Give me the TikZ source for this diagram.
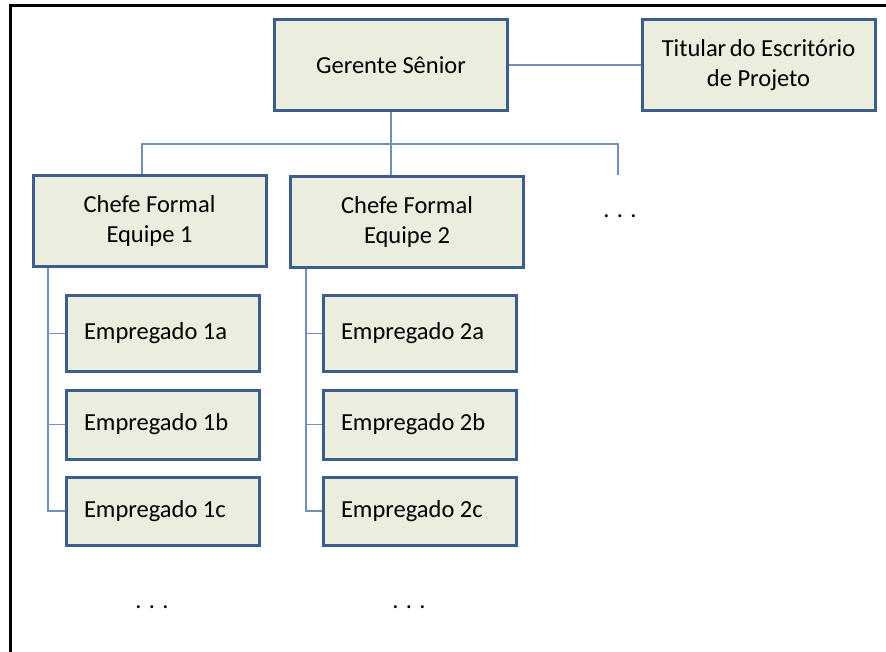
\documentclass[tikz,border=0pt]{standalone}
\usepackage{fontspec}
\setmainfont{Carlito}
\definecolor{boxfill}{HTML}{EBEDDF}
\definecolor{boxedge}{HTML}{3D5E8A}
\definecolor{wire}{HTML}{7391B6}
\newcommand{\emptext}[1]{\makebox[193pt][l]{\hspace*{18pt}#1}}
\begin{document}
\begin{tikzpicture}[x=1pt,y=-1pt,
  orgbox/.style={draw=boxedge,fill=boxfill,line width=3pt,rectangle,
    align=center,font=\fontsize{24.5}{30}\selectfont,inner sep=0pt},
  headbox/.style={orgbox,minimum width=233pt,minimum height=91pt},
  empbox/.style={orgbox,minimum width=193pt,anchor=north west},
  wireline/.style={draw=wire,line width=1.3pt},
  dotsnode/.style={font=\fontsize{24.5}{30}\selectfont,inner sep=0pt}]
\useasboundingbox (0,0) rectangle (886,652);
\fill[white] (0,0) rectangle (886,652);
% frame (top and left edges)
\draw[line width=3pt,black] (886,6) -- (10,6) -- (10,652);

% top level
\node[headbox] (ger) at (391,65) {Gerente Sênior};
\node[headbox] (tit) at (758.5,65.5) {Titular\hspace{-2pt} do Escritório\\de Projeto};

% team heads
\node[headbox] (ch1) at (149.5,221) {Chefe Formal\\Equipe 1};
\node[headbox] (ch2) at (407,222) {Chefe Formal\\Equipe 2};
\node[dotsnode] (more) at (620,216) {. . .};

% employees, team 1
\node[empbox,minimum height=75pt] (e1a) at (64.5,294.5) {\emptext{Empregado 1a}};
\node[empbox,minimum height=69pt] (e1b) at (64.5,388.5) {\emptext{Empregado 1b}};
\node[empbox,minimum height=68pt] (e1c) at (64.5,475.5) {\emptext{Empregado 1c}};
% employees, team 2
\node[empbox,minimum height=75pt] (e2a) at (321.5,294.5) {\emptext{Empregado 2a}};
\node[empbox,minimum height=69pt] (e2b) at (321.5,388.5) {\emptext{Empregado 2b}};
\node[empbox,minimum height=68pt] (e2c) at (321.5,475.5) {\emptext{Empregado 2c}};

\node[dotsnode] (more1) at (152,607) {. . .};
\node[dotsnode] (more2) at (409,607) {. . .};

% connectors
\coordinate (busL) at (142,144);
\coordinate (busR) at (618,144);
\coordinate (moreTop) at (618,175);
\draw[wireline] (ger.east) -- (ger.east -| tit.west);
\draw[wireline] (ger.south) -- (391,144);
\draw[wireline] (ch1.north -| busL) -- (busL) -- (busR) -- (moreTop);
\draw[wireline] (391,144) -- (ch2.north -| ger.south);

\draw[wireline] (48,268) |- (e1c.west);
\draw[wireline] (48,0 |- e1a.west) -- (e1a.west);
\draw[wireline] (48,0 |- e1b.west) -- (e1b.west);
\draw[wireline] (306,269) |- (e2c.west);
\draw[wireline] (306,0 |- e2a.west) -- (e2a.west);
\draw[wireline] (306,0 |- e2b.west) -- (e2b.west);
\end{tikzpicture}
\end{document}
